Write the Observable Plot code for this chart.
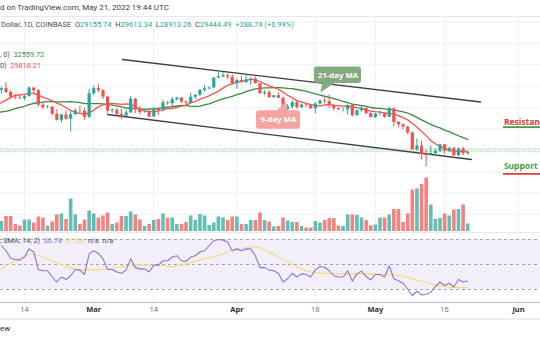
<!DOCTYPE html>
<html><head><meta charset="utf-8">
<script src="https://cdn.jsdelivr.net/npm/d3@7"></script>
<script src="https://cdn.jsdelivr.net/npm/@observablehq/plot@0.6"></script>
<style>
body{margin:0;background:#fff;}
#wrap{position:relative;width:540px;height:340px;overflow:hidden;background:#fff;font-family:Roboto,"Noto Sans",sans-serif;}
.layer{position:absolute;left:0;}
.layer svg{overflow:hidden;}
.txt{position:absolute;white-space:pre;line-height:1;}
.hl{position:absolute;left:0;width:540px;height:1px;}
</style></head><body><div id="wrap"></div><script>
// ---------- data ----------
const firstDay = "2022-02-09", lastDay = "2022-05-21";
const open = [44040,44400,43500,42400,42200,42050,42550,44550,43900,40550,40000,40100,38400,37000,38250,37250,38350,39200,39100,37700,
 43200,44400,43950,42450,39150,39400,38400,38000,38750,41950,39450,38800,38900,37800,39700,39300,41100,40900,41800,42200,41300,41000,42400,42900,44000,44350,44550,46850,47150,47450,47100,
 45550,46300,45850,46450,46650,45550,43200,43450,42300,42750,42150,39500,40100,41150,39950,40550,40400,39700,40800,41500,41350,40500,39700,39450,39450,40450,38100,39250,39750,38600,
 37650,38450,38500,37700,39700,36550,36000,35450,34050,30100,31000,29050,28950,29250,29800,31300,29850,30400,28700,30300,29155.74];
const high = [44800,45800,43900,43000,42750,42850,44750,44600,44200,40950,40450,40150,39450,38450,39250,38950,39700,40300,39850,44200,
 44950,45400,44100,42500,39650,39650,39550,39350,42600,42050,40250,39450,39300,39900,39900,41700,41450,42350,42400,42300,41550,43350,42950,44200,45100,44800,46950,48189,48100,47700,47600,
 46700,47200,47450,46900,47150,45550,43900,43950,42800,43450,42400,40700,41550,41500,40850,40700,40600,41100,41750,42200,42950,40800,39950,39900,40600,40800,39450,40350,39950,38800,
 38700,39150,38650,40000,39850,36650,36150,35500,34250,32650,32150,30050,31050,30300,31400,31300,30750,30700,30550,30750,29613.34];
const low = [43150,43200,42000,41800,41850,41550,42450,43350,40100,39450,39650,38050,36800,36400,37050,34300,38050,38600,37000,37450,
 42850,43400,41850,38650,38650,38100,37200,37900,38650,38550,38250,38700,37600,37600,38150,38950,40550,40150,41550,40950,40500,40900,41800,42600,43600,44100,44400,46700,46950,46550,45250,
 44250,45650,45550,45150,45500,43150,42750,42150,42150,42150,39200,39250,39600,39550,39800,40050,39550,38550,40600,40850,39750,39200,39300,38950,38200,37700,37900,38900,38200,37600,
 37400,38050,37500,37650,35550,35250,34750,33700,30050,29750,27750,26100,28750,28700,29500,29100,29450,28650,28650,28750,28913.26];
const close = [44400,43500,42400,42200,42050,42550,44550,43900,40550,40000,40100,38400,37000,38250,37250,38350,39200,39100,37700,43200,
 44400,43950,42450,39150,39400,38400,38000,38750,41950,39450,38800,38900,37800,39700,39300,41100,40900,41800,42200,41300,41000,42400,42900,44000,44350,44550,46850,47150,47450,47100,45550,
 46300,45850,46450,46650,45550,43200,43450,42300,42750,42150,39500,40100,41150,39950,40550,40400,39700,40800,41500,41350,40500,39700,39450,39450,40450,38100,39250,39750,38600,37650,
 38450,38500,37700,39700,36550,36000,35450,34050,30100,31000,29050,28950,29250,29800,31300,29850,30400,28700,30300,29160,29444.49];
// volume (thousand BTC, approximate)
const volume = [20,30,30,14,11,23,23,17,29,27, 11,19,33,35,24,65,33,14,23,41, 35,27,31,37,14,17,30,30,39,33,
 23,10,14,22,24,35,27,27,14,14, 18,31,22,34,31,12,17,29,27,22, 29,29,14,14,22,22,37,22,19,9,
 10,27,21,18,18,10,7,7,20,17, 22,26,26,11,10,33,33,32,27,22, 11,13,27,27,33,44,44,18,35,83,
 85,94,107,53,24,26,35,31,43,44, 53,15];
// RSI(14)
const rsi = [65,61,55,54,53.5,56,62.5,60,46,45, 45,40,36,40,38,41,46,45.5,42,58.5, 61,59,54.5,46,46,44,43,45.5,54.5,47.5,
 46.5,46.5,44,49.5,49.5,53,53,56,57,53, 52.5,56,57,60,61,65,69,70,69.5,68, 61,62.5,61,62.5,62.5,57,47.5,47.5,45.5,45,
 43,36,38.6,43,40,42.5,42,40,45.7,48.4, 47.8,45,41,40,40,45,36.7,42.5,44.7,40.4, 37.7,42,42,40,49,38.6,37,35,30.4,25,
 28.6,25.7,26,27.9,32.4,36,33.2,35,32,38, 36,36.78];
// RSI-based SMA(14), read at points
const rsiMaDates = ["2022-02-09","2022-02-16","2022-02-20","2022-02-23","2022-02-26","2022-03-02","2022-03-06","2022-03-10","2022-03-15","2022-03-18","2022-03-21","2022-03-24","2022-03-28","2022-03-31","2022-04-05","2022-04-08","2022-04-13","2022-04-17","2022-04-23","2022-04-30","2022-05-06","2022-05-09","2022-05-13","2022-05-17","2022-05-21"];
const rsiMaValues = [46.5,58,52.7,48.4,45.7,45.7,47.6,49.7,49.2,48.4,50.5,53.7,57.2,61.2,64,59.9,50.5,43.9,42.5,42.5,41.2,38.6,34.5,31.9,31.36];
// closes before the first visible day (Jan 20 - Feb 8), only for the moving averages
const priorCloses = [40700,36450,35050,36250,36650,36950,36800,37150,37700,37900,37900,38450,38700,36900,37300,41550,41400,42400,43850,44050];
const tickDates = ["2022-02-14","2022-03-01","2022-03-14","2022-04-01","2022-04-18","2022-05-01","2022-05-16","2022-06-01"];
const tickLabels = ["14","Mar","14","Apr","18","May","16","Jun"];
const tickIsMonth = [false,true,false,true,false,true,false,true];
const priceGrid = [15000,20000,25000,30000,35000,40000,45000,50000,55000,60000];
const rsiLevels = [30,50,70];
const rsiGrid = [40,60];
const channelUpper = [{date:"2022-03-07T05:30Z", price:51215},{date:"2022-05-23T18:30Z", price:41290}];
const channelLower = [{date:"2022-03-04T00:00Z", price:38367},{date:"2022-05-21T19:40Z", price:27855}];
const zoneLevels = [29650, 30350];
const label21 = {x1:"2022-04-17T19:00Z", x2:"2022-04-28T00:00Z", y1:45600, y2:49460, tx:"2022-04-22T22:00Z", ty:47530, text:"21-day MA"};
const tail21 = [{date:"2022-04-19T13:00Z", price:45700},{date:"2022-04-22T03:00Z", price:45700},{date:"2022-04-19T02:00Z", price:43500}];
const label9 = {x1:"2022-04-05T06:00Z", x2:"2022-04-14T19:00Z", y1:34930, y2:39230, tx:"2022-04-10T00:00Z", ty:37080, text:"9-day MA"};
const tail9 = [{date:"2022-04-09T11:00Z", price:39150},{date:"2022-04-12T01:00Z", price:39150},{date:"2022-04-11T14:00Z", price:41400}];
const levels = [
  {text:"Resistance", date:"2022-05-28T20:00Z", price:35960, lineFrom:"2022-05-28T18:00Z", lineTo:"2022-06-08", linePrice:35400, textColor:"#e53935", lineColor:"#43a047"},
  {text:"Support", date:"2022-05-28T20:00Z", price:25520, lineFrom:"2022-05-28T18:00Z", lineTo:"2022-06-08", linePrice:24510, textColor:"#43a047", lineColor:"#e53935"}
];

// ---------- tables ----------
const P = s => new Date(s);
const dates = d3.utcDay.range(P(firstDay), d3.utcDay.offset(P(lastDay), 1));
const candles = dates.map((d,i)=>({date:d, open:open[i], high:high[i], low:low[i], close:close[i], volume:volume[i], rsi:rsi[i]}));
const up = candles.filter(d=>d.close>=d.open), down = candles.filter(d=>d.close<d.open);
const priorDates = d3.utcDay.range(d3.utcDay.offset(P(firstDay), -priorCloses.length), P(firstDay));
const maData = priorDates.map((d,i)=>({date:d, close:priorCloses[i]})).concat(candles);
const rsiMa = rsiMaDates.map((d,i)=>({date:P(d), v:rsiMaValues[i]}));
const ticks = tickDates.map((d,i)=>({date:P(d), label:tickLabels[i], month:tickIsMonth[i]}));
const pt = a => a.map(d=>({date:P(d.date), price:d.price}));
const lab = l => [{...l, x1:P(l.x1), x2:P(l.x2), tx:P(l.tx)}];
const lv = levels.map(l=>({...l, date:P(l.date), lineFrom:P(l.lineFrom), lineTo:P(l.lineTo)}));

const UP="#26a69a", DN="#ef5350", GRID="#eef1f6";
const X = {type:"utc", domain:[P("2022-02-14"), P("2022-06-01")], range:[24,518], axis:null};

// ---------- price pane ----------
const price = Plot.plot({
  width:540, height:216, margin:0, x:X, y:{domain:[15000,60000], range:[198,5.4], axis:null},
  style:{background:"transparent"},
  marks:[
    Plot.ruleY(priceGrid,{stroke:GRID}),
    Plot.ruleX(ticks,{x:"date", stroke:GRID}),
    Plot.ruleY([30000],{stroke:"#e8f5e9", strokeWidth:3}),
    Plot.ruleY(zoneLevels,{stroke:"#9ed59f", strokeWidth:0.9, strokeDasharray:"1,1.2"}),
    Plot.line(pt(channelUpper),{x:"date", y:"price", stroke:"#3f3f3f", strokeWidth:1.4}),
    Plot.line(pt(channelLower),{x:"date", y:"price", stroke:"#3f3f3f", strokeWidth:1.4}),
    Plot.lineY(maData, Plot.windowY({k:21, anchor:"end"},{x:"date", y:"close", stroke:"#3b8a3e", strokeWidth:1.3, clip:true})),
    Plot.lineY(maData, Plot.windowY({k:9, anchor:"end"},{x:"date", y:"close", stroke:"#f05350", strokeWidth:1.3, clip:true})),
    Plot.ruleX(up,{x:"date", y1:"low", y2:"high", stroke:UP, strokeWidth:1, clip:true}),
    Plot.ruleX(down,{x:"date", y1:"low", y2:"high", stroke:DN, strokeWidth:1, clip:true}),
    Plot.ruleX(up,{x:"date", y1:"open", y2:"close", stroke:UP, strokeWidth:3.2, clip:true}),
    Plot.ruleX(down,{x:"date", y1:"open", y2:"close", stroke:DN, strokeWidth:3.2, clip:true}),
    Plot.line(pt(tail21),{x:"date", y:"price", fill:"#84aa7f", stroke:"none"}),
    Plot.rect(lab(label21),{x1:"x1", x2:"x2", y1:"y1", y2:"y2", fill:"#84aa7f", rx:3}),
    Plot.text(lab(label21),{x:"tx", y:"ty", text:"text", fill:"white", fontWeight:"bold", fontSize:7.8}),
    Plot.line(pt(tail9),{x:"date", y:"price", fill:"#f6a4a2", stroke:"none"}),
    Plot.rect(lab(label9),{x1:"x1", x2:"x2", y1:"y1", y2:"y2", fill:"#f6a4a2", rx:3}),
    Plot.text(lab(label9),{x:"tx", y:"ty", text:"text", fill:"white", fontWeight:"bold", fontSize:7.8}),
    Plot.ruleY(lv,{x1:"lineFrom", x2:"lineTo", y:"linePrice", stroke:"lineColor", strokeWidth:1.8}),
    Plot.text(lv,{x:"date", y:"price", text:"text", fill:"textColor", textAnchor:"start", lineAnchor:"bottom", fontWeight:"bold", fontSize:8.5})
  ]
});

// ---------- volume overlay ----------
const vol = Plot.plot({
  width:540, height:216, margin:0, x:X, y:{domain:[0,120], range:[215,155], axis:null},
  style:{background:"transparent"},
  marks:[
    Plot.ruleX(up,{x:"date", y1:0, y2:"volume", stroke:UP, strokeOpacity:0.72, strokeWidth:3.6, clip:true}),
    Plot.ruleX(down,{x:"date", y1:0, y2:"volume", stroke:DN, strokeOpacity:0.72, strokeWidth:3.6, clip:true})
  ]
});

// ---------- RSI pane + time axis ----------
const rsiPlot = Plot.plot({
  width:540, height:86, marginTop:0, marginLeft:0, marginRight:0, marginBottom:16,
  x:X, y:{domain:[30,70], range:[57,7], axis:null},
  style:{background:"transparent"},
  marks:[
    Plot.rect([{a:P("2022-01-01"), b:P("2022-07-01")}],{x1:"a", x2:"b", y1:30, y2:70, fill:"#f3effa"}),
    Plot.ruleY(rsiGrid,{stroke:GRID}),
    Plot.gridX(ticks.map(d=>d.date),{stroke:GRID, strokeOpacity:1}),
    Plot.ruleY(rsiLevels,{stroke:"#9a9ca5", strokeDasharray:"3,3", strokeWidth:0.9}),
    Plot.line(rsiMa,{x:"date", y:"v", stroke:"#f2dc78", strokeWidth:1.1, curve:"monotone-x"}),
    Plot.line(candles,{x:"date", y:"rsi", stroke:"#8f72d8", strokeWidth:1.1}),
    Plot.text(ticks.filter(d=>!d.month),{x:"date", text:"label", frameAnchor:"bottom", dy:9, fill:"#6f727c", fontSize:7.5}),
    Plot.text(ticks.filter(d=>d.month),{x:"date", text:"label", frameAnchor:"bottom", dy:9, fill:"#2a2e39", fontSize:7.5, fontWeight:"bold"})
  ]
});

// ---------- assemble ----------
const wrap = document.getElementById("wrap");
function layer(node, top){ const d=document.createElement("div"); d.className="layer"; d.style.top=top+"px"; d.appendChild(node); wrap.appendChild(d); }
function hline(top, color){ const d=document.createElement("div"); d.className="hl"; d.style.top=top+"px"; d.style.background=color; wrap.appendChild(d); }
function txt(html, left, top, size, color, weight){ const d=document.createElement("div"); d.className="txt"; d.style.left=left+"px"; d.style.top=top+"px"; d.style.fontSize=size+"px"; d.style.color=color; if(weight) d.style.fontWeight=weight; d.innerHTML=html; wrap.appendChild(d); }

layer(price, 16);
layer(vol, 16);
layer(rsiPlot, 232);
hline(16, "#e6e9ef");
hline(232, "#e6e9ef");
hline(302, "#b8bbc3");
const bottom = document.createElement("div");
bottom.style.cssText="position:absolute;left:0;top:318px;width:540px;height:22px;background:#fff;border-top:2px solid #eceef2;";
wrap.appendChild(bottom);

const teal = "#26a69a";
txt("d on TradingView.com, May 21, 2022 19:44 UTC", 0, 4, 8, "#3a3d45");
txt(`Dollar, 1D, COINBASE  O<span style="color:${teal}">${open[open.length-1].toFixed(2)}</span>  H<span style="color:${teal}">${high[high.length-1].toFixed(2)}</span>  L<span style="color:${teal}">${low[low.length-1].toFixed(2)}</span>  C<span style="color:${teal}">${close[close.length-1].toFixed(2)}</span>  <span style="color:${teal}">+288.74 (+0.99%)</span>`, 1, 20.5, 7.5, "#4a4d55");
txt(`, 0)  <span style="color:#3d8b40">32559.72</span>`, 0, 50.5, 7.3, "#4a4d55");
txt(`0)  <span style="color:#ef5350">29818.21</span>`, 0, 62, 7.3, "#4a4d55");
txt(`, SMA, 14, 2)  <span style="color:#8f72d8">36.78</span>  <span style="color:#e8cf5a">31.36</span>  n/a  n/a`, 0, 236.5, 7.3, "#4a4d55");
txt("ew", 0, 325, 8, "#2a2e39");
</script></body></html>
